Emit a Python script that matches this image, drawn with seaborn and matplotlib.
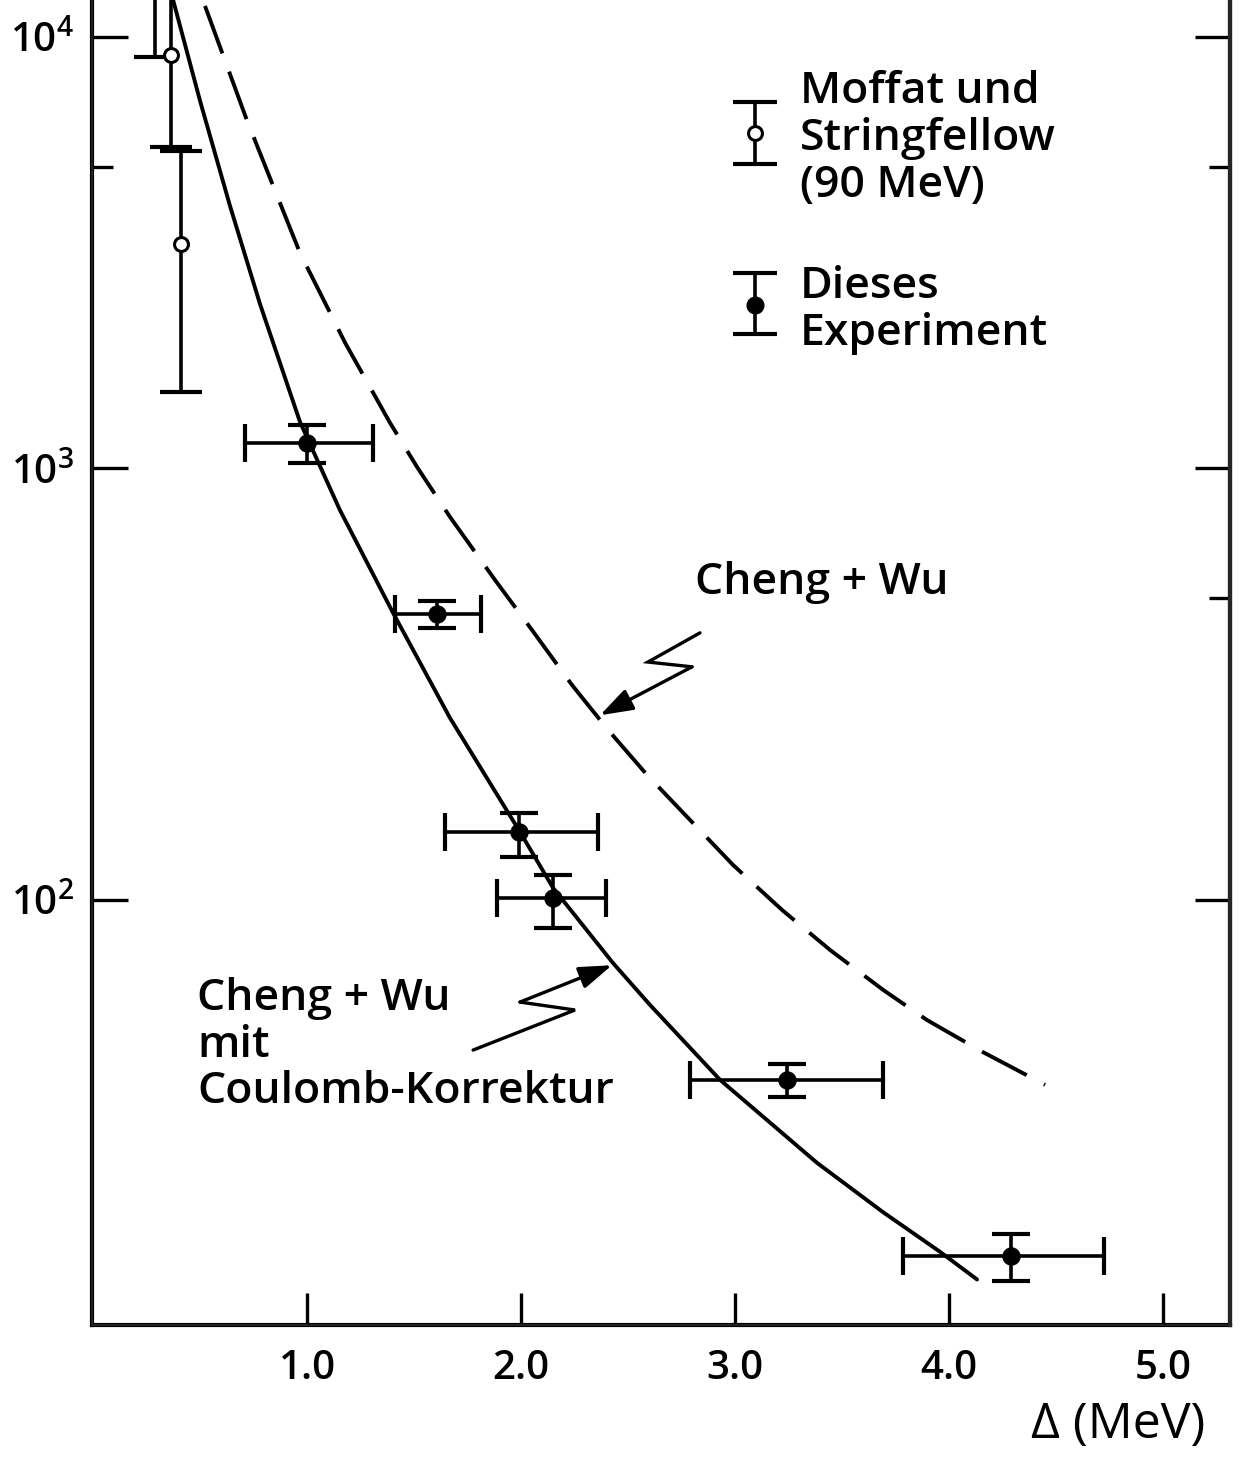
import numpy as np
import pandas as pd
import matplotlib
matplotlib.use("Agg")
import matplotlib.pyplot as plt
import seaborn as sns
from matplotlib.ticker import FixedLocator, NullFormatter, NullLocator

sns.set_theme(style="ticks")
plt.rcParams.update({
    'font.family': ['Open Sans', 'DejaVu Sans'],
    'font.weight': 'semibold',
    'mathtext.fontset': 'custom',
    'mathtext.rm': 'Open Sans:semibold',
    'mathtext.it': 'Open Sans:italic',
    'mathtext.bf': 'Open Sans:bold',
    'text.color': 'black',
    'axes.labelcolor': 'black',
    'xtick.color': 'black',
    'ytick.color': 'black',
})

# --- data ---
# Dieses Experiment (filled points), x = Delta in MeV
exp_x = [1.000, 1.607, 1.991, 2.150, 3.243, 4.290]
exp_x_lo = [0.710, 1.411, 1.645, 1.888, 2.790, 3.785]
exp_x_hi = [1.308, 1.813, 2.360, 2.397, 3.692, 4.724]
exp_y = [1146, 461, 144, 101, 38.3, 15.0]
exp_y_lo = [1032, 428, 126, 86, 35.0, 13.1]
exp_y_hi = [1258, 494, 159, 114, 41.7, 16.8]

# Moffat und Stringfellow (90 MeV), open points
ms_x = [0.290, 0.364, 0.411]
ms_y = [15000, 9080, 3318]
ms_y_lo = [8990, 5560, 1507]
ms_y_hi = [20000, 14000, 5455]

# Cheng + Wu mit Coulomb-Korrektur (solid curve)
coul_x = [0.374, 0.500, 0.640, 0.780, 0.967, 1.154, 1.402, 1.668, 1.995,
          2.150, 2.430, 2.603, 2.930, 3.383, 3.692, 3.958, 4.131]
coul_y = [12180, 7108, 4058, 2406, 1282, 800, 462.6, 264.1, 143.8,
          106.6, 71.4, 57.1, 38.3, 24.6, 18.9, 15.3, 13.2]

# Cheng + Wu (dashed curve)
cw_x = [0.523, 0.720, 0.967, 1.178, 1.388, 1.514, 1.668, 1.879, 2.051, 2.238,
        2.407, 2.589, 2.776, 2.991, 3.220, 3.444, 3.692, 3.897, 4.159, 4.449]
cw_y = [11800, 6390, 3158, 1955, 1275, 1008, 772, 551, 422.5, 315,
        247.7, 194.9, 155.8, 120.5, 94.8, 76.6, 61.9, 52.7, 44.4, 37.3]

# zigzag pointers (data coords), last pair = arrow tip
arrow_cw_x = [2.836, 2.593, 2.799, 2.369]
arrow_cw_y = [416, 356, 347, 268]
arrow_coul_x = [1.776, 2.252, 1.995, 2.425]
arrow_coul_y = [44.9, 55.6, 58.0, 70.6]

x_ticks = [1.0, 2.0, 3.0, 4.0, 5.0]
x_ticklabels = ["1.0", "2.0", "3.0", "4.0", "5.0"]
y_ticks = [1e2, 1e3, 1e4]
y_ticklabels = [r"$10^{2}$", r"$10^{3}$", r"$10^{4}$"]

LW = 2.8
FS = 32

fig = plt.figure(figsize=(12.46, 14.58), dpi=100)
ax = fig.add_axes([92 / 1246, 133 / 1458, 1138 / 1246, 1325 / 1458])
ax.set_yscale("log")

# curves
df_coul = pd.DataFrame({"delta": coul_x, "val": coul_y})
df_cw = pd.DataFrame({"delta": cw_x, "val": cw_y})
sns.lineplot(data=df_coul, x="delta", y="val", color="black", lw=LW, ax=ax)
sns.lineplot(data=df_cw, x="delta", y="val", color="black", lw=LW, ax=ax)
ax.lines[-1].set_dashes((13, 5))

# error bars
ex = np.array(exp_x); ey = np.array(exp_y)
ax.errorbar(ex, ey,
            xerr=[ex - np.array(exp_x_lo), np.array(exp_x_hi) - ex],
            yerr=[ey - np.array(exp_y_lo), np.array(exp_y_hi) - ey],
            fmt="none", ecolor="black", elinewidth=2.6, capsize=14, capthick=3, zorder=3)
mx = np.array(ms_x); my = np.array(ms_y)
ax.errorbar(mx, my, yerr=[my - np.array(ms_y_lo), np.array(ms_y_hi) - my],
            fmt="none", ecolor="black", elinewidth=2.6, capsize=15, capthick=3, zorder=3)

sns.scatterplot(x=exp_x, y=exp_y, color="black", edgecolor="black", s=150,
                linewidth=1, ax=ax, zorder=4)
sns.scatterplot(x=ms_x, y=ms_y, color="white", edgecolor="black", s=100,
                linewidth=2.2, ax=ax, zorder=4)

# zigzag pointers with arrow heads
for zx, zy in [(arrow_cw_x, arrow_cw_y), (arrow_coul_x, arrow_coul_y)]:
    ax.plot(zx[:-1], zy[:-1], color="black", lw=2.4, solid_joinstyle="miter")
    ax.annotate("", xy=(zx[-1], zy[-1]), xytext=(zx[-2], zy[-2]),
                arrowprops=dict(arrowstyle="-|>,head_length=0.5,head_width=0.17",
                                color="black", lw=2.4, mutation_scale=40,
                                shrinkA=0, shrinkB=0))

# legend glyphs drawn in axes fraction
lx = (755 - 92) / 1138
ax.errorbar([lx], [0.8996], yerr=[[0.0234], [0.0234]], fmt="none", ecolor="black",
            elinewidth=2.6, capsize=16, capthick=3, transform=ax.transAxes)
ax.plot([lx], [0.8996], "o", ms=10, mfc="white", mec="black", mew=2.2,
        transform=ax.transAxes)
ax.errorbar([lx], [0.7698], yerr=[[0.0215], [0.0240]], fmt="none", ecolor="black",
            elinewidth=2.6, capsize=16, capthick=3, transform=ax.transAxes)
ax.plot([lx], [0.7698], "o", ms=12, color="black", transform=ax.transAxes)

tx = (800 - 92) / 1138
ax.text(tx, 0.8958, "Moffat und\nStringfellow\n(90 MeV)", transform=ax.transAxes,
        fontsize=FS, va="center", ha="left", linespacing=1.12)
ax.text(tx, 0.766, "Dieses\nExperiment", transform=ax.transAxes,
        fontsize=FS, va="center", ha="left", linespacing=1.12)
ax.text((695 - 92) / 1138, 0.560, "Cheng + Wu", transform=ax.transAxes,
        fontsize=FS, va="center", ha="left")
ax.text((197 - 92) / 1138, 0.2113, "Cheng + Wu\nmit\nCoulomb-Korrektur",
        transform=ax.transAxes, fontsize=FS, va="center", ha="left", linespacing=1.12)

# axes / ticks
ax.set_xlim(-0.005, 5.313)
ax.set_ylim(10.354, 12180)
ax.spines["top"].set_visible(False)
for s in ["left", "right", "bottom"]:
    ax.spines[s].set_linewidth(3)
    ax.spines[s].set_color("black")

ax.xaxis.set_major_locator(FixedLocator(x_ticks))
ax.set_xticklabels(x_ticklabels, fontsize=29)
ax.xaxis.set_minor_locator(NullLocator())
ax.yaxis.set_major_locator(FixedLocator(y_ticks))
ax.set_yticklabels(y_ticklabels, fontsize=29)
ax.yaxis.set_minor_locator(FixedLocator([5000]))
ax.yaxis.set_minor_formatter(NullFormatter())
ax.tick_params(axis="x", which="major", direction="in", length=23, width=2.4,
               pad=17, top=False)
ax.tick_params(axis="y", which="major", direction="in", length=26, width=2.4,
               pad=13, right=False)
ax.tick_params(axis="y", which="minor", direction="in", length=15, width=2.4,
               right=False)

# right-hand ticks (also 500 minor)
twin = ax.twinx()
twin.set_yscale("log")
twin.set_ylim(ax.get_ylim())
twin.spines["top"].set_visible(False)
twin.yaxis.set_major_locator(FixedLocator(y_ticks))
twin.yaxis.set_major_formatter(NullFormatter())
twin.yaxis.set_minor_locator(FixedLocator([500, 5000]))
twin.yaxis.set_minor_formatter(NullFormatter())
twin.tick_params(axis="y", which="major", direction="in", length=25, width=2.4)
twin.tick_params(axis="y", which="minor", direction="in", length=15, width=2.4)
twin.spines["right"].set_linewidth(3)

ax.set_xlabel("Δ (MeV)", fontsize=36, ha="right")
ax.xaxis.set_label_coords((1205 - 92) / 1138, -0.057)
ax.set_ylabel("")

fig.savefig("out.png", dpi=100)
